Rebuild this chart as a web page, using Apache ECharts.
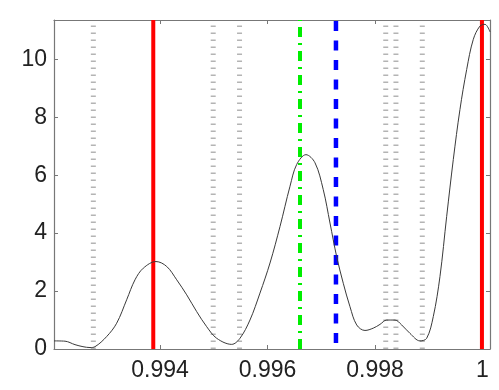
<!DOCTYPE html>
<html>
<head>
<meta charset="utf-8">
<script src="https://cdn.jsdelivr.net/npm/echarts@6/dist/echarts.min.js"></script>
<style>
html,body{margin:0;padding:0;background:#fff;}
#chart{width:499px;height:390px;}
</style>
</head>
<body>
<div id="chart"></div>
<script>
// ---- data ----
const curveX = [0.992028, 0.992233, 0.992419, 0.992567, 0.992698, 0.992791, 0.993008, 0.993194, 0.993380, 0.993535,
  0.993689, 0.993926, 0.994125, 0.994311, 0.994497, 0.994683, 0.994869, 0.995055, 0.995334, 0.995488,
  0.995674, 0.995860, 0.996047, 0.996233, 0.996419, 0.996543, 0.996716, 0.996884, 0.997038, 0.997163,
  0.997287, 0.997410, 0.997535, 0.997660, 0.997814, 0.997968, 0.998093, 0.998218, 0.998372, 0.998497,
  0.998651, 0.998837, 0.998962, 0.999085, 0.999209, 0.999334, 0.999457, 0.999581, 0.999706, 0.999829,
  0.999953, 1.000047, 1.000140];
const curveY = [0.28, 0.27, 0.15, 0.08, 0.05, 0.08, 0.43, 0.89, 1.70, 2.39,
  2.79, 3.02, 2.85, 2.39, 1.87, 1.29, 0.77, 0.37, 0.16, 0.37,
  1.00, 1.93, 2.97, 4.23, 5.62, 6.37, 6.71, 6.43, 5.50, 4.35,
  3.19, 2.27, 1.46, 0.83, 0.64, 0.72, 0.85, 1.00, 1.00, 0.83,
  0.54, 0.28, 0.37, 1.12, 2.50, 4.58, 6.54, 8.27, 9.65, 10.69,
  11.15, 11.21, 10.95];
const redLines = [0.993875, 0.99999];
const greyLines = [0.99276, 0.99499, 0.99548, 0.99820, 0.99839, 0.99888];
const greenLine = [0.996605];
const blueLine = [0.997274];
const xTicks = [0.994, 0.996, 0.998, 1];
const yTicks = [0, 2, 4, 6, 8, 10];
const xMin = 0.992028, xMax = 1.00014;
const yMin = 0, yMax = 11.36;

// ---- build chart ----
const chart = echarts.init(document.getElementById('chart'), null, {renderer: 'canvas'});
const frameColor = '#777';
const labelFont = {fontFamily: 'Liberation Sans, Arial, sans-serif', fontSize: 23, color: '#222'};

function vline(v, style, z) {
  return {
    type: 'line', xAxisIndex: 0, yAxisIndex: 0,
    data: [[v, yMin], [v, yMax]],
    showSymbol: false, symbol: 'none', silent: true, clip: true,
    lineStyle: style, z: z
  };
}

const series = [];
greyLines.forEach(v => series.push(vline(v, {color: '#b4b4b4', width: 5, type: [1.5, 5.5]}, 1)));
greenLine.forEach(v => series.push(vline(v, {color: '#00ee00', width: 4, type: [10, 6, 2, 6]}, 2)));
blueLine.forEach(v => series.push(vline(v, {color: '#0000ff', width: 4.5, type: [10, 9.5], dashOffset: -6}, 2)));
redLines.forEach(v => series.push(vline(v, {color: '#ff0000', width: 4}, 2)));
series.push({
  type: 'line',
  xAxisIndex: 0, yAxisIndex: 0,
  data: curveX.map((x, i) => [x, curveY[i]]),
  smooth: 0.35,
  showSymbol: false,
  symbol: 'none',
  clip: true,
  lineStyle: {color: '#3a3a3a', width: 1},
  z: 3
});

chart.setOption({
  animation: false,
  backgroundColor: '#fff',
  grid: {left: 54, top: 20, right: 9, bottom: 41, containLabel: false},
  xAxis: [{
    type: 'value', min: xMin, max: xMax, position: 'bottom',
    axisLine: {show: true, onZero: false, lineStyle: {color: frameColor, width: 1.2}},
    axisTick: {show: true, inside: true, length: 4, lineStyle: {color: frameColor}, customValues: xTicks},
    axisLabel: Object.assign({show: true, margin: 10, customValues: xTicks,
      formatter: v => String(+v.toFixed(3))}, labelFont),
    splitLine: {show: false}
  }, {
    type: 'value', min: xMin, max: xMax, position: 'top',
    axisLine: {show: true, onZero: false, lineStyle: {color: frameColor, width: 1.2}},
    axisTick: {show: true, inside: true, length: 4, lineStyle: {color: frameColor}, customValues: xTicks},
    axisLabel: {show: false},
    splitLine: {show: false}
  }],
  yAxis: [{
    type: 'value', min: yMin, max: yMax, position: 'left',
    axisLine: {show: true, onZero: false, lineStyle: {color: frameColor, width: 1.2}},
    axisTick: {show: true, inside: true, length: 4, lineStyle: {color: frameColor}, customValues: yTicks},
    axisLabel: Object.assign({show: true, margin: 7, customValues: yTicks}, labelFont),
    splitLine: {show: false}
  }, {
    type: 'value', min: yMin, max: yMax, position: 'right',
    axisLine: {show: true, onZero: false, lineStyle: {color: frameColor, width: 1.2}},
    axisTick: {show: true, inside: true, length: 4, lineStyle: {color: frameColor}, customValues: yTicks},
    axisLabel: {show: false},
    splitLine: {show: false}
  }],
  series: series
});
</script>
</body>
</html>
